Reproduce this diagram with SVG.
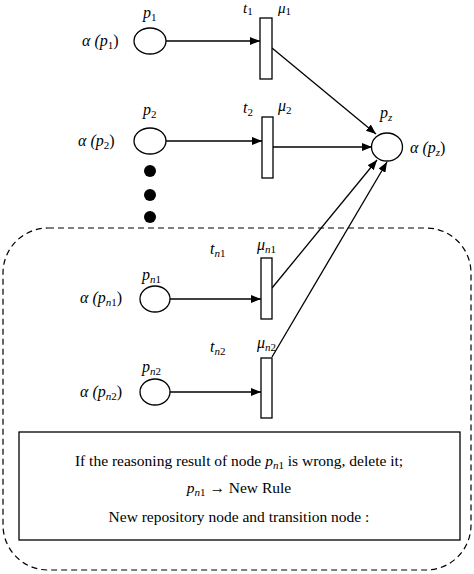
<svg xmlns="http://www.w3.org/2000/svg" width="474" height="574" viewBox="0 0 474 574">
<defs>
<marker id="arr" markerWidth="10" markerHeight="8" refX="10" refY="4" orient="auto" markerUnits="userSpaceOnUse">
<path d="M0,0 L10,4 L0,8 Z" fill="#000"/>
</marker>
<style>
.pl{fill:#fff;stroke:#000;stroke-width:1.3}
.tr{fill:#fff;stroke:#000;stroke-width:1.3}
.ln{stroke:#000;stroke-width:1.3;fill:none}
.lab{font-size:16px;font-style:italic;fill:#000}
.sub{font-size:11px}
.up{font-style:normal}
.box{font-size:15.5px;fill:#000}
</style>
</defs>
<rect width="474" height="574" fill="#fff"/>
<g id="region">
<rect x="3" y="228" width="468" height="342" rx="45" ry="45" fill="none" stroke="#000" stroke-width="1.2" stroke-dasharray="6,4"/>
</g>
<g id="connectors">
<line class="ln" x1="166" y1="41" x2="260" y2="41" marker-end="url(#arr)"/>
<line class="ln" x1="166" y1="141" x2="262" y2="141" marker-end="url(#arr)"/>
<line class="ln" x1="170" y1="299" x2="261" y2="299" marker-end="url(#arr)"/>
<line class="ln" x1="170" y1="392" x2="261" y2="392" marker-end="url(#arr)"/>
<line class="ln" x1="272" y1="48" x2="376" y2="134" marker-end="url(#arr)"/>
<line class="ln" x1="272" y1="147" x2="372" y2="147" marker-end="url(#arr)"/>
<line class="ln" x1="272" y1="288" x2="377" y2="160" marker-end="url(#arr)"/>
<line class="ln" x1="272" y1="357" x2="387" y2="162" marker-end="url(#arr)"/>
</g>
<g font-family="'Liberation Serif', 'DejaVu Serif', serif">
<g id="p1"><ellipse class="pl" cx="150" cy="41" rx="16" ry="13"/>
<text class="lab" x="143" y="18">p<tspan class="sub up" dy="3">1</tspan></text>
<text class="lab" x="82" y="46">α (p<tspan class="sub up" dy="3">1</tspan><tspan class="up" dy="-3">)</tspan></text></g>
<g id="p2"><ellipse class="pl" cx="150" cy="141" rx="16" ry="13"/>
<text class="lab" x="143" y="115">p<tspan class="sub up" dy="3">2</tspan></text>
<text class="lab" x="78" y="146">α (p<tspan class="sub up" dy="3">2</tspan><tspan class="up" dy="-3">)</tspan></text></g>
<g id="dots">
<circle cx="150" cy="171" r="6" fill="#000"/>
<circle cx="150" cy="195" r="6" fill="#000"/>
<circle cx="150" cy="217" r="6" fill="#000"/>
</g>
<g id="t1"><rect class="tr" x="260" y="18" width="12" height="61"/>
<text class="lab" x="243" y="13" style="font-size:15px">t<tspan class="sub up" dy="2">1</tspan></text>
<text class="lab" x="278" y="13" style="font-size:15px">μ<tspan class="sub up" dy="2">1</tspan></text></g>
<g id="t2"><rect class="tr" x="262" y="117" width="11" height="61"/>
<text class="lab" x="243" y="113">t<tspan class="sub up" dy="3">2</tspan></text>
<text class="lab" x="278" y="111">μ<tspan class="sub up" dy="3">2</tspan></text></g>
<g id="pz"><ellipse class="pl" cx="387" cy="147" rx="15.5" ry="14"/>
<text class="lab" x="380" y="118">p<tspan class="sub" dy="3">z</tspan></text>
<text class="lab" x="410" y="153">α (p<tspan class="sub" dy="3">z</tspan><tspan class="up" dy="-3">)</tspan></text></g>
<g id="pn1"><ellipse class="pl" cx="155" cy="299" rx="15" ry="13"/>
<text class="lab" x="142" y="280">p<tspan class="sub" dy="3">n</tspan><tspan class="sub up">1</tspan></text>
<text class="lab" x="80" y="303">α (p<tspan class="sub" dy="3">n</tspan><tspan class="sub up">1</tspan><tspan class="up" dy="-3">)</tspan></text></g>
<g id="pn2"><ellipse class="pl" cx="155" cy="392" rx="15" ry="13"/>
<text class="lab" x="142" y="372">p<tspan class="sub" dy="3">n</tspan><tspan class="sub up">2</tspan></text>
<text class="lab" x="80" y="397">α (p<tspan class="sub" dy="3">n</tspan><tspan class="sub up">2</tspan><tspan class="up" dy="-3">)</tspan></text></g>
<g id="tn1"><rect class="tr" x="261" y="258" width="11" height="61"/>
<text class="lab" x="210" y="254">t<tspan class="sub" dy="3">n</tspan><tspan class="sub up">1</tspan></text>
<text class="lab" x="257" y="250">μ<tspan class="sub" dy="3">n</tspan><tspan class="sub up">1</tspan></text></g>
<g id="tn2"><rect class="tr" x="261" y="358" width="11" height="60"/>
<text class="lab" x="210" y="352">t<tspan class="sub" dy="3">n</tspan><tspan class="sub up">2</tspan></text>
<text class="lab" x="257" y="348">μ<tspan class="sub" dy="3">n</tspan><tspan class="sub up">2</tspan></text></g>
<g id="note">
<rect x="19" y="432" width="441" height="108" fill="#fff" stroke="#000" stroke-width="1.3"/>
<text class="box" x="239" y="466" text-anchor="middle">If the reasoning result of node <tspan font-style="italic">p</tspan><tspan font-size="11" font-style="italic" dy="3">n</tspan><tspan font-size="11">1</tspan><tspan dy="-3"> is wrong, delete it;</tspan></text>
<text class="box" x="239" y="493" text-anchor="middle"><tspan font-style="italic">p</tspan><tspan font-size="11" font-style="italic" dy="3">n</tspan><tspan font-size="11">1</tspan><tspan dy="-3"> → New Rule</tspan></text>
<text class="box" x="239" y="522" text-anchor="middle">New repository node and transition node :</text>
</g>
</g>
</svg>
